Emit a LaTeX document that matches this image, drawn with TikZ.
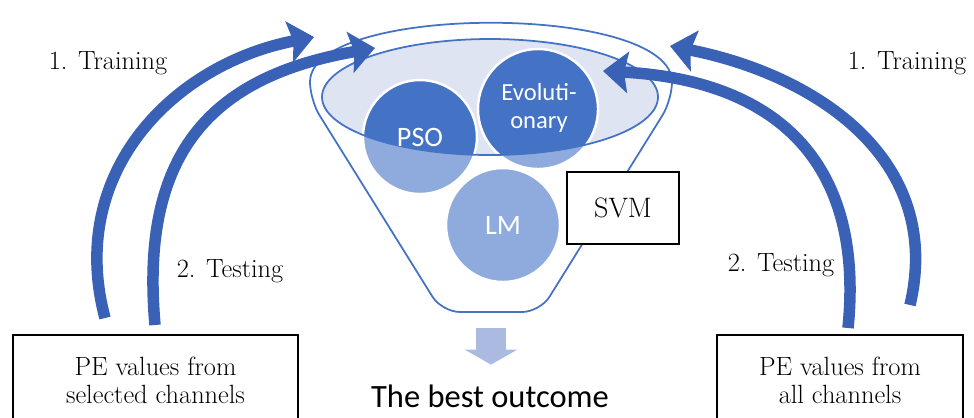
\documentclass[tikz,border=0pt]{standalone}
\usepackage{fontspec}
\setsansfont{Carlito}
\usetikzlibrary{arrows.meta}

\definecolor{funnelblue}{RGB}{68,114,196}
\definecolor{paleblue}{RGB}{143,170,220}
\definecolor{rimfill}{RGB}{223,228,243}
\definecolor{arrowblue}{RGB}{57,97,182}
\definecolor{outblue}{RGB}{170,186,225}

\begin{document}
\begin{tikzpicture}[x=0.02cm, y=-0.02cm,
  stage/.style={font=\fontsize{15}{18}\selectfont},
  pebox/.style={draw, line width=0.8pt, fill=white, align=center, font=\fontsize{15}{16}\selectfont, minimum height=1.8cm},
  algo/.style={text=white, font=\sffamily\fontsize{16}{18}\selectfont, align=center},
  bigarrow/.style={arrowblue, line width=0.23cm, -{Stealth[width=0.82cm,length=0.5cm,inset=0.08cm]}}]
\useasboundingbox (0,0) rectangle (974,417);
\clip (0,0) rectangle (974,417);

% funnel
\draw[funnelblue, line width=1pt, fill=white, rounded corners=0.36cm]
  (310,100) .. controls (310,3) and (672,3) .. (672,100) -- (540,312) -- (442,312) -- cycle;
\fill[rimfill] (490,97) ellipse [x radius=168, y radius=58];

% algorithms
\fill[paleblue] (420,137) circle [radius=57];
\fill[paleblue] (538,109) circle [radius=60];
\fill[paleblue] (503,225) circle [radius=57];
\begin{scope}
  \clip (490,97) ellipse [x radius=168, y radius=58];
  \fill[funnelblue] (420,137) circle [radius=57];
  \fill[funnelblue] (538,109) circle [radius=60];
\end{scope}
\draw[white, line width=1.4pt] (420,137) circle [radius=57];
\draw[white, line width=1.4pt] (538,109) circle [radius=60];
\draw[white, line width=1.4pt] (503,225) circle [radius=57];
\draw[funnelblue, line width=1pt] (490,97) ellipse [x radius=168, y radius=58];

\node[algo] (pso) at (420,137) {PSO};
\node[algo, font=\sffamily\fontsize{14}{15.5}\selectfont] (evo) at (539,108) {Evoluti-\\onary};
\node[algo] (lm) at (503,225) {LM};

\node[draw, line width=0.8pt, fill=white, minimum width=2.24cm, minimum height=1.44cm,
  font=\fontsize{16}{18}\selectfont] (svm) at (623,208) {SVM};

% inputs
\node[pebox, minimum width=5.7cm] (selbox) at (155.5,380) {PE values from\\selected channels};
\node[pebox, minimum width=4.92cm] (allbox) at (840,380) {PE values from\\all channels};

\node[stage] (trainL) at (108,63) {1. Training};
\node[stage] (testL) at (230,271) {2. Testing};
\node[stage] (trainR) at (907,63) {1. Training};
\node[stage] (testR) at (781,265) {2. Testing};

% arrows
\coordinate (trainLtail) at (105,318);
\coordinate (trainLtip) at (314,37);
\coordinate (testLtail) at (155,325);
\coordinate (testLtip) at (375,48);
\coordinate (trainRtail) at (910,305);
\coordinate (trainRtip) at (670,46);
\coordinate (testRtail) at (848,328);
\coordinate (testRtip) at (603,71);
\draw[bigarrow] (trainLtail) .. controls (66,172) and (174,64) .. (trainLtip);
\draw[bigarrow] (testLtail) .. controls (140,156) and (208,77) .. (testLtip);
\draw[bigarrow] (trainRtail) .. controls (944,160) and (817,75) .. (trainRtip);
\draw[bigarrow] (testRtail) .. controls (865,159) and (773,80) .. (testRtip);

% result
\coordinate (funnelbot) at (491,314);
\node[font=\sffamily\fontsize{18.5}{20}\selectfont, inner sep=0pt, anchor=base] (outcome) at (490,407) {The best outcome};
\draw[outblue, line width=0.6cm, shorten <=0.28cm, shorten >=0.39cm, -{Triangle[width=1.04cm,length=0.3cm]}]
  (funnelbot) -- (funnelbot |- outcome.north);
\end{tikzpicture}
\end{document}
